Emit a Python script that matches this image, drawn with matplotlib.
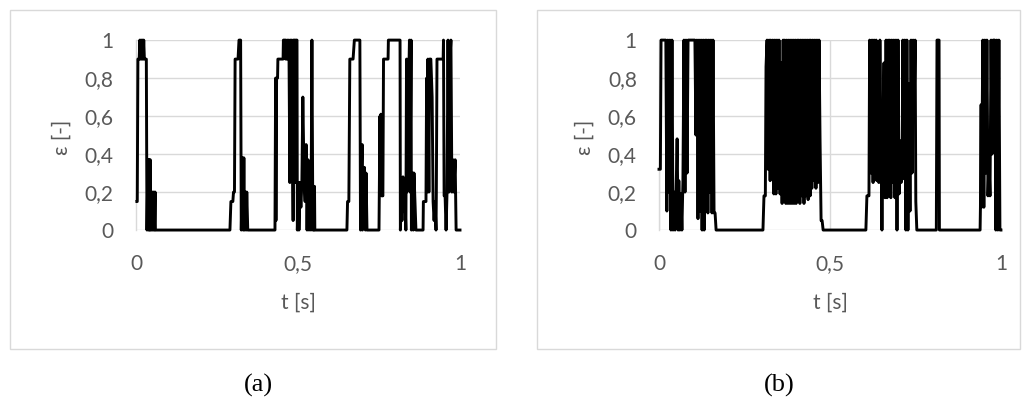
import matplotlib.pyplot as plt
from matplotlib.patches import Rectangle

# señal (a): tiempo [s] y epsilon [-]
t_a = [
    0.003, 0.004, 0.006, 0.010, 0.012, 0.014, 0.016, 0.018, 0.020, 0.022,
    0.024, 0.026, 0.028, 0.032, 0.034, 0.037, 0.039, 0.041, 0.042, 0.044,
    0.045, 0.047, 0.049, 0.051, 0.053, 0.055, 0.057, 0.059, 0.060,
    0.290, 0.293, 0.299, 0.301, 0.304, 0.306, 0.315, 0.318, 0.323, 0.325,
    0.329, 0.331, 0.333, 0.335, 0.338, 0.340, 0.342, 0.345,
    0.429, 0.431, 0.432, 0.434, 0.437, 0.438, 0.454, 0.455, 0.460, 0.462,
    0.463, 0.466, 0.468, 0.471, 0.472, 0.475, 0.477, 0.480, 0.481, 0.485,
    0.486, 0.491, 0.492, 0.494, 0.497, 0.498, 0.502, 0.503, 0.506, 0.509,
    0.512, 0.515, 0.519, 0.522, 0.525, 0.528, 0.531, 0.534, 0.537, 0.540,
    0.543, 0.546, 0.548, 0.549, 0.551, 0.552,
    0.651, 0.653, 0.657, 0.660, 0.670, 0.674, 0.691, 0.693, 0.698, 0.699,
    0.701, 0.704, 0.705, 0.708, 0.710, 0.713,
    0.750, 0.753, 0.755, 0.756, 0.758, 0.762, 0.764, 0.778, 0.779, 0.815,
    0.816, 0.819, 0.821, 0.824, 0.827, 0.830, 0.833, 0.835, 0.836, 0.840,
    0.843, 0.844, 0.846, 0.849, 0.850, 0.855, 0.856, 0.858, 0.861, 0.864,
    0.886, 0.887, 0.895, 0.897, 0.898, 0.901, 0.904, 0.906, 0.910, 0.914,
    0.917, 0.920, 0.923, 0.926, 0.927, 0.929, 0.948, 0.949, 0.951, 0.954,
    0.957, 0.960, 0.963, 0.966, 0.969, 0.972, 0.975, 0.978, 0.981, 0.985,
    0.988, 1.000,
]
eps_a = [
    0.15, 0.15, 0.90, 0.90, 1.00, 0.90, 1.00, 0.90, 1.00, 0.90,
    1.00, 0.90, 0.90, 0.90, 0.00, 0.37, 0.00, 0.37, 0.00, 0.37,
    0.00, 0.20, 0.00, 0.20, 0.00, 0.20, 0.00, 0.20, 0.00,
    0.00, 0.15, 0.15, 0.20, 0.20, 0.90, 0.90, 1.00, 1.00, 0.00,
    0.38, 0.00, 0.38, 0.00, 0.20, 0.00, 0.20, 0.00,
    0.00, 0.80, 0.05, 0.80, 0.80, 0.90, 0.90, 1.00, 1.00, 0.90,
    1.00, 0.90, 1.00, 0.90, 1.00, 0.25, 1.00, 0.90, 1.00, 0.05,
    1.00, 1.00, 0.25, 1.00, 1.00, 0.00, 0.25, 0.00, 0.25, 0.12,
    0.25, 0.70, 0.25, 0.15, 0.45, 0.00, 0.37, 0.00, 0.20, 0.00,
    1.00, 0.00, 0.23, 0.00, 0.23, 0.00,
    0.00, 0.15, 0.15, 0.90, 0.90, 1.00, 1.00, 0.00, 0.45, 0.00,
    0.33, 0.05, 0.33, 0.00, 0.30, 0.00,
    0.00, 0.60, 0.19, 0.61, 0.18, 0.18, 0.90, 0.90, 1.00, 1.00,
    0.00, 0.18, 0.05, 0.28, 0.10, 0.18, 0.00, 0.90, 0.20, 0.90,
    0.90, 1.00, 0.20, 1.00, 0.00, 0.30, 0.00, 0.30, 0.15, 0.00,
    0.00, 0.15, 0.15, 0.80, 0.20, 0.90, 0.20, 0.90, 0.90, 0.70,
    0.15, 0.05, 0.15, 0.00, 0.20, 0.90, 0.90, 1.00, 0.18, 0.18,
    0.00, 0.20, 1.00, 0.20, 0.90, 1.00, 0.20, 0.37, 0.20, 0.37,
    0.00, 0.00,
]

# señal (b)
t_b = [
    0.000, 0.004, 0.006, 0.020, 0.023, 0.026, 0.029, 0.032, 0.035, 0.038,
    0.041, 0.044, 0.047, 0.050, 0.053, 0.056, 0.058, 0.061, 0.064, 0.067,
    0.070, 0.073, 0.076, 0.079, 0.082, 0.085, 0.105, 0.108, 0.111, 0.114,
    0.117, 0.120, 0.123, 0.126, 0.129, 0.132, 0.135, 0.137, 0.140, 0.143,
    0.146, 0.149, 0.152, 0.155, 0.158, 0.161, 0.164, 0.167,
    0.304, 0.307, 0.311, 0.313, 0.316, 0.319, 0.322, 0.325, 0.327, 0.330,
    0.333, 0.336, 0.339, 0.342, 0.345, 0.348, 0.351, 0.354, 0.357, 0.360,
    0.363, 0.366, 0.368, 0.371, 0.374, 0.377, 0.380, 0.383, 0.386, 0.389,
    0.392, 0.395, 0.398, 0.401, 0.404, 0.406, 0.409, 0.412, 0.415, 0.418,
    0.421, 0.424, 0.427, 0.430, 0.433, 0.436, 0.439, 0.442, 0.444, 0.447,
    0.450, 0.453, 0.456, 0.459, 0.462, 0.465, 0.468, 0.471, 0.474, 0.477,
    0.480,
    0.605, 0.608, 0.614, 0.616, 0.620, 0.623, 0.626, 0.629, 0.632, 0.635,
    0.637, 0.640, 0.643, 0.646, 0.649, 0.652, 0.655, 0.658, 0.661, 0.664,
    0.667, 0.670, 0.673, 0.675, 0.678, 0.681, 0.684, 0.687, 0.690, 0.693,
    0.696, 0.699, 0.702, 0.705, 0.708, 0.711, 0.713, 0.716, 0.719, 0.722,
    0.725, 0.728, 0.731, 0.734, 0.737, 0.740, 0.743, 0.746, 0.749, 0.751,
    0.754,
    0.811, 0.813, 0.819, 0.820,
    0.939, 0.940, 0.942, 0.943, 0.944, 0.947, 0.950, 0.953, 0.956, 0.959,
    0.962, 0.965, 0.968, 0.971, 0.974, 0.977, 0.982, 0.985, 0.988, 0.991,
    0.994, 0.997, 1.000,
]
eps_b = [
    0.32, 0.32, 1.00, 1.00, 0.10, 1.00, 0.20, 1.00, 0.00, 1.00,
    0.00, 0.20, 0.00, 0.20, 0.48, 0.00, 0.26, 0.00, 0.19, 0.00,
    0.26, 1.00, 0.20, 1.00, 0.30, 1.00, 1.00, 0.50, 1.00, 0.06,
    1.00, 0.10, 1.00, 0.00, 1.00, 0.00, 1.00, 0.55, 1.00, 0.09,
    1.00, 0.20, 1.00, 0.09, 1.00, 0.09, 0.09, 0.00,
    0.00, 0.18, 0.18, 0.86, 1.00, 0.32, 1.00, 0.26, 1.00, 0.35,
    1.00, 0.19, 1.00, 0.19, 1.00, 0.22, 1.00, 0.19, 0.88, 0.14,
    1.00, 0.20, 1.00, 0.14, 1.00, 0.14, 1.00, 0.14, 1.00, 0.14,
    1.00, 0.14, 1.00, 0.14, 1.00, 0.58, 1.00, 0.14, 1.00, 0.18,
    1.00, 0.14, 1.00, 0.18, 1.00, 0.16, 1.00, 0.18, 1.00, 0.22,
    1.00, 0.26, 1.00, 0.22, 1.00, 0.25, 1.00, 0.47, 0.05, 0.05,
    0.00,
    0.00, 0.18, 0.18, 1.00, 0.30, 1.00, 0.25, 1.00, 0.31, 1.00,
    0.26, 0.92, 0.25, 1.00, 0.50, 0.00, 0.50, 0.88, 0.17, 1.00,
    0.17, 1.00, 0.20, 1.00, 0.17, 1.00, 0.25, 1.00, 0.17, 1.00,
    0.00, 1.00, 0.19, 0.47, 0.25, 0.38, 1.00, 0.27, 1.00, 0.00,
    1.00, 0.00, 0.77, 0.10, 1.00, 0.30, 1.00, 0.60, 1.00, 0.15,
    0.00,
    0.00, 1.00, 1.00, 0.00,
    0.00, 0.12, 0.66, 0.12, 0.34, 1.00, 0.12, 1.00, 0.30, 1.00,
    0.18, 0.37, 0.18, 1.00, 0.40, 1.00, 1.00, 0.00, 1.00, 0.00,
    1.00, 0.00, 0.00,
]

yticks = [0, 0.2, 0.4, 0.6, 0.8, 1]
ytick_labels = ['0', '0,2', '0,4', '0,6', '0,8', '1']
xticks = [0, 0.5, 1]
xtick_labels = ['0', '0,5', '1']

gris = '#595959'
rejilla = '#d9d9d9'
fuente = ['Lato', 'Open Sans', 'DejaVu Sans']
plt.rcParams['font.family'] = fuente

fig = plt.figure(figsize=(10.3, 4.05), dpi=100)


def panel(rect, marco, t, eps, etiqueta, xcap, xpie, rejilla_x):
    # marco gris alrededor de cada gráfico
    fig.patches.append(Rectangle((marco[0], marco[1]), marco[2], marco[3],
                                 transform=fig.transFigure, fill=False,
                                 edgecolor=rejilla, linewidth=1.0))
    ax = fig.add_axes(rect)
    ax.plot(t, eps, color='black', linewidth=2.1, clip_on=False, zorder=3)
    ax.set_xlim(0, 1)
    ax.set_ylim(0, 1)
    ax.set_yticks(yticks)
    ax.set_yticklabels(ytick_labels)
    ax.set_xticks(xticks)
    ax.set_xticklabels(xtick_labels)
    ax.tick_params(axis='both', length=0, labelsize=15, colors=gris)
    ax.tick_params(axis='y', pad=16)
    ax.tick_params(axis='x', pad=17)
    for s in ['top', 'right', 'bottom']:
        ax.spines[s].set_visible(False)
    ax.spines['left'].set_color(rejilla)
    ax.spines['left'].set_linewidth(1.0)
    ax.grid(axis='y', color=rejilla, linewidth=1.0)
    if rejilla_x:
        ax.grid(axis='x', color=rejilla, linewidth=1.0)
    ax.set_axisbelow(True)
    ax.set_ylabel('ε [-]', fontsize=15, color=gris)
    ax.set_xlabel('t [s]', fontsize=15, color=gris)
    ax.yaxis.set_label_coords(xcap, 0.49)
    ax.xaxis.set_label_coords(0.5, -0.33)
    # rótulo del subgráfico debajo del marco
    fig.text(xpie, 0.049, etiqueta, ha='center', va='center',
             family='Liberation Serif', fontsize=19)
    return ax


ax1 = panel([0.1320, 0.432, 0.3146, 0.469], [0.0097, 0.138, 0.4718, 0.837],
            t_a, eps_a, '(a)', -0.198, 0.2505, False)
ax2 = panel([0.6398, 0.432, 0.3320, 0.469], [0.5214, 0.138, 0.4689, 0.837],
            t_b, eps_b, '(b)', -0.187, 0.757, True)

fig.savefig('out.png', dpi=100)
